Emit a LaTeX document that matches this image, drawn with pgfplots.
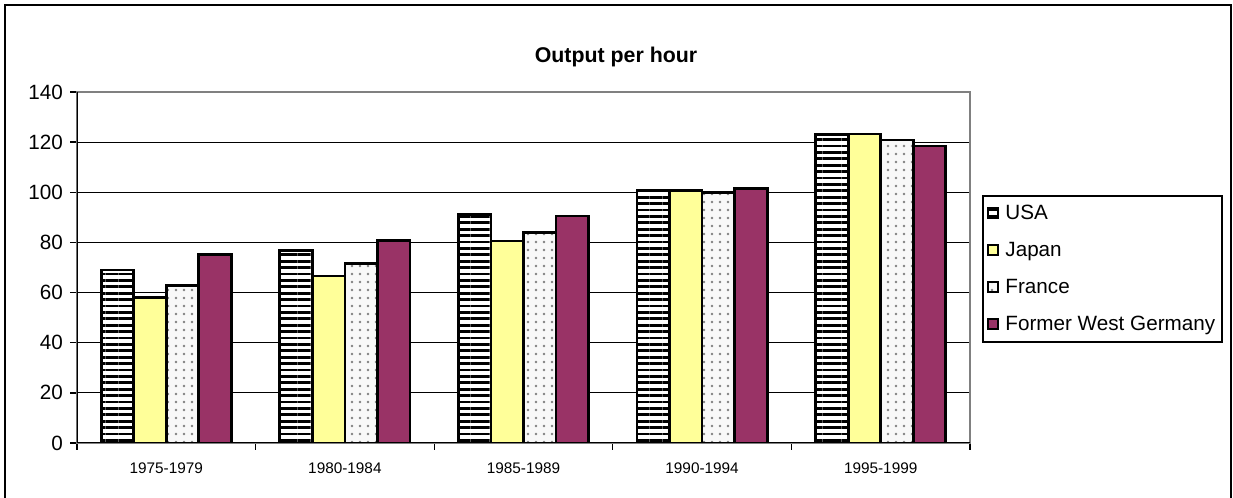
\documentclass[border=0pt]{standalone}
\usepackage{fontspec}
\setmainfont{Liberation Sans}
\usepackage{pgfplots}
\pgfplotsset{compat=1.18}
\usetikzlibrary{patterns.meta}
\definecolor{jap}{HTML}{FFFF99}
\definecolor{ger}{HTML}{993366}
\definecolor{fra}{HTML}{F8F8F8}
\begin{document}
\begin{tikzpicture}
\path[use as bounding box] (0,0) rectangle (924.75pt,373.5pt);
\draw[line width=1.5pt] (3.75pt,0pt) -- (3.75pt,369.75pt) -- (923.25pt,369.75pt) -- (923.25pt,0pt);
\node[font=\fontsize{16}{19}\selectfont\bfseries] at (462pt,330.75pt) {Output per hour};
\begin{axis}[
  at={(57.75pt,41.25pt)}, anchor=south west,
  scale only axis, width=669.75pt, height=263.25pt,
  ybar=0pt, bar width=24.4pt,
  xmin=-0.5, xmax=4.5, ymin=0, ymax=140,
  ytick={0,20,...,140},
  xtick={0,1,2,3,4},
  xticklabels={1975-1979,1980-1984,1985-1989,1990-1994,1995-1999},
  minor xtick={-0.5,0.5,1.5,2.5,3.5,4.5},
  major x tick style={draw=none},
  minor x tick style={draw=black, line width=1pt},
  y tick style={draw=black, line width=1pt},
  tick align=outside, xtick pos=bottom, ytick pos=left,
  major tick length=5pt, minor tick length=5pt,
  ymajorgrids, grid style={black, line width=0.8pt},
  axis line style={draw=gray, line width=0.8pt},
  /pgf/number format/assume math mode=true,
  yticklabel style={font=\fontsize{15.5}{18}\selectfont, xshift=-2pt},
  xticklabel style={font=\fontsize{11.5}{14}\selectfont, yshift=-6pt},
  legend style={at={(rel axis cs:1.0134,0.7066)}, anchor=north west,
    draw=black, line width=1.2pt, font=\fontsize{15.5}{18}\selectfont,
    row sep=11.5pt, inner xsep=3pt, inner ysep=5pt,
    /tikz/every odd column/.append style={column sep=3pt}},
  legend cell align=left,
  legend image code/.code={\draw[#1, line width=1.5pt] (0pt,-3.5pt) rectangle (7.5pt,4pt);},
]
\addplot[draw=black, line width=2pt, fill=white, postaction={pattern={Lines[angle=0,distance=4.8pt,line width=2.2pt]}, pattern color=black}]
  coordinates {(0,69.0) (1,76.8) (2,91.2) (3,100.7) (4,123.0)};
\addplot[draw=black, line width=2pt, fill=jap]
  coordinates {(0,58.1) (1,66.6) (2,80.6) (3,100.8) (4,123.3)};
\addplot[draw=black, line width=2pt, fill=fra, postaction={pattern={Dots[distance=6pt,radius=1.1pt]}, pattern color=gray}]
  coordinates {(0,62.8) (1,71.6) (2,84.0) (3,99.8) (4,120.8)};
\addplot[draw=black, line width=2pt, fill=ger]
  coordinates {(0,75.1) (1,80.8) (2,90.5) (3,101.6) (4,118.5)};
\legend{USA,Japan,France,Former West Germany}
\draw[black, line width=1.6pt] (rel axis cs:0,1) -- (rel axis cs:0,0) -- (rel axis cs:1,0);
\end{axis}
\end{tikzpicture}
\end{document}
